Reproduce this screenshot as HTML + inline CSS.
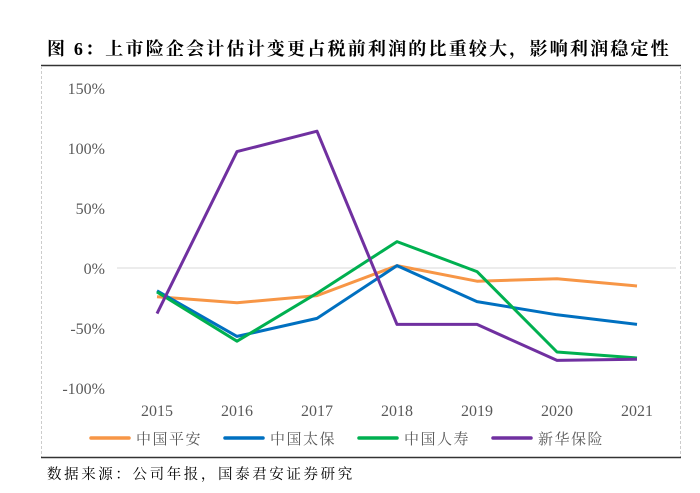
<!DOCTYPE html>
<html><head><meta charset="utf-8"><style>
body{margin:0;background:#fff;width:700px;height:488px;overflow:hidden;font-family:"Liberation Serif","Noto Serif CJK SC",serif;}
</style></head><body>
<svg width="700" height="488" viewBox="0 0 700 488" xmlns="http://www.w3.org/2000/svg">
<text x="47" y="55" font-size="18" letter-spacing="2.2" font-weight="bold" font-family="'Liberation Serif','Noto Serif CJK SC',serif" fill="#000">图 6：上市险企会计估计变更占税前利润的比重较大，影响利润稳定性</text>
<line x1="41" y1="65.5" x2="681" y2="65.5" stroke="#333" stroke-width="1.5"/>
<line x1="41.5" y1="66" x2="41.5" y2="458" stroke="#ccc" stroke-dasharray="3,2"/>
<line x1="680.5" y1="66" x2="680.5" y2="458" stroke="#ccc" stroke-dasharray="3,2"/>
<line x1="41" y1="457.5" x2="681" y2="457.5" stroke="#333" stroke-width="1.5"/>
<g id="plot"></g>
<text x="47" y="479" font-size="14.5" letter-spacing="2.6" font-family="'Liberation Serif','Noto Serif CJK SC',serif">数据来源：公司年报，国泰君安证券研究</text>
</svg>
<script>
const categories=["2015","2016","2017","2018","2019","2020","2021"];
const yTicks=[150,100,50,0,-50,-100];
const seriesNames=["中国平安","中国太保","中国人寿","新华保险"];
const pingan=[-24,-29,-23,2,-11,-9,-15];
const taibao=[-19,-57,-42,2,-28,-39,-47];
const renshou=[-20,-61,-21,22,-3,-70,-75];
const xinhua=[-38,97,114,-47,-47,-77,-76];
const colors=["#F79646","#0070C0","#00B050","#7030A0"];
const NS="http://www.w3.org/2000/svg";
const g=document.getElementById("plot");
const x=i=>157+i*80;
const y=v=>268-v*1.2;
function mk(t,a){const e=document.createElementNS(NS,t);for(const k in a)e.setAttribute(k,a[k]);g.appendChild(e);return e;}
let zl=mk("line",{x1:117,y1:y(0),x2:676,y2:y(0),stroke:"#d9d9d9","stroke-width":1});


yTicks.forEach(v=>{const t=mk("text",{x:105,y:y(v)+6,"text-anchor":"end","font-size":"16",fill:"#595959"});t.textContent=v+"%";

});
categories.forEach((c,i)=>{const t=mk("text",{x:x(i),y:416,"text-anchor":"middle","font-size":"16",fill:"#595959"});t.textContent=c;

});
[pingan,taibao,renshou,xinhua].forEach((s,k)=>{
const p=mk("polyline",{points:s.map((v,i)=>x(i)+","+y(v)).join(" "),fill:"none",stroke:colors[k],"stroke-width":3,"stroke-linejoin":"round"});


const lx=91+k*134;
const l=mk("line",{x1:lx,y1:438,x2:lx+38,y2:438,stroke:colors[k],"stroke-width":3.5,"stroke-linecap":"round"});


const t=mk("text",{x:lx+45,y:444,"font-size":"15","letter-spacing":"1.5",fill:"#595959"});t.textContent=seriesNames[k];


});
</script>
</body></html>
